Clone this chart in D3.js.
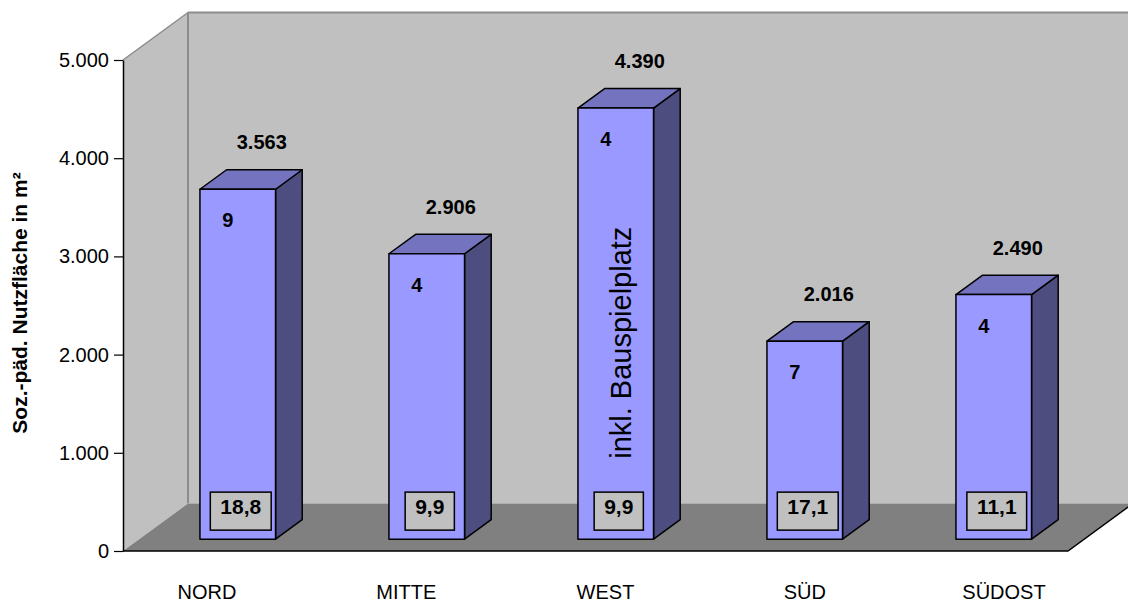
<!DOCTYPE html>
<html>
<head>
<meta charset="utf-8">
<script src="https://cdn.jsdelivr.net/npm/d3@7"></script>
<style>
  html, body { margin: 0; padding: 0; background: #fff; }
  svg { display: block; font-family: "Liberation Sans", Arial, sans-serif; }
</style>
</head>
<body>
<svg id="chart" width="1128" height="605"></svg>
<script>
// Sozialpädagogische Nutzfläche je Stadtbezirk
const categories = ["NORD", "MITTE", "WEST", "SÜD", "SÜDOST"];
const flaeche    = [3563, 2906, 4390, 2016, 2490];   // m²
const anzahl     = [9, 4, 4, 7, 4];                  // Einrichtungen
const quote      = [18.8, 9.9, 9.9, 17.1, 11.1];
const yTicks     = [0, 1000, 2000, 3000, 4000, 5000];
const notes      = [{ category: "WEST", text: "inkl. Bauspielplatz", value: 2000 }];
const yTitle     = "Soz.-päd. Nutzfläche in m²";

const de = d3.formatLocale({ decimal: ",", thousands: ".", grouping: [3], currency: ["", " €"] });
const fmtInt = de.format(",.0f");
const fmtDec = de.format(",.1f");

const svg = d3.select("#chart");

// 3D box geometry: front plane z=0, back wall z=1
const DX = 65, DY = 47.5;
const plotLeft = 123, plotRight = 1068;
const y = d3.scaleLinear().domain([0, 5000]).range([551, 60]);
const xBand = d3.scaleBand().domain(categories).range([127, 1072])
  .paddingInner(0.6).paddingOuter(0.3);
const xLabel = d3.scalePoint().domain(categories).range([207, 1004]);
const P = (x, v, z) => [x + z * DX, y(v) - z * DY];
const poly = pts => "M" + pts.map(p => p.join(",")).join("L") + "Z";

const vMax = y.domain()[1];

// back wall
svg.append("path")
  .attr("d", poly([P(plotLeft, vMax, 1), P(plotRight, vMax, 1), P(plotRight, 0, 1), P(plotLeft, 0, 1)]))
  .attr("fill", "#c0c0c0");
// left wall
svg.append("path")
  .attr("d", poly([P(plotLeft, vMax, 0), P(plotLeft, vMax, 1), P(plotLeft, 0, 1), P(plotLeft, 0, 0)]))
  .attr("fill", "#c0c0c0");
// floor
svg.append("path")
  .attr("d", poly([P(plotLeft, 0, 0), P(plotRight, 0, 0), P(plotRight, 0, 1), P(plotLeft, 0, 1)]))
  .attr("fill", "#808080");

// wall edges
const grayEdge = (a, b, w) => svg.append("line")
  .attr("x1", a[0]).attr("y1", a[1]).attr("x2", b[0]).attr("y2", b[1])
  .attr("stroke", "#8c8c8c").attr("stroke-width", w);
grayEdge(P(plotLeft, vMax, 0), P(plotLeft, vMax, 1), 1.5);
grayEdge(P(plotLeft, vMax, 1), P(plotLeft, 0, 1), 2);
grayEdge(P(plotLeft, vMax, 1), P(plotRight, vMax, 1), 2);

// floor front and right edges
svg.append("path")
  .attr("d", "M" + [P(plotLeft, 0, 0), P(plotRight, 0, 0), P(plotRight, 0, 1)].map(p => p.join(",")).join("L"))
  .attr("fill", "none").attr("stroke", "#000").attr("stroke-width", 1.5);

// value axis
const yAxis = d3.axisLeft(y).tickValues(yTicks).tickSize(9).tickSizeOuter(0).tickPadding(5)
  .tickFormat(d => fmtInt(d));
const gAxis = svg.append("g").attr("transform", `translate(${plotLeft},0)`).call(yAxis);
gAxis.select(".domain").attr("stroke", "#000").attr("stroke-width", 1.5);
gAxis.selectAll(".tick line").attr("stroke", "#000").attr("stroke-width", 1.2);
gAxis.selectAll(".tick text")
  .attr("font-size", "20px").attr("fill", "#000")
  .attr("font-family", "'Liberation Sans', Arial, sans-serif");

// axis title
svg.append("text")
  .attr("transform", "translate(27,303) rotate(-90)")
  .attr("text-anchor", "middle")
  .attr("font-size", "21px").attr("font-weight", "bold")
  .text(yTitle);

// bars
const z0 = 0.25, z1 = 0.66;
const rows = categories.map((c, i) => ({ c, v: flaeche[i], n: anzahl[i], q: quote[i] }));
const gBars = svg.append("g");
rows.forEach(d => {
  const x0 = xBand(d.c), x1 = x0 + xBand.bandwidth();
  const g = gBars.append("g")
    .attr("stroke", "#000").attr("stroke-width", 1.5).attr("stroke-linejoin", "round");
  g.append("path").attr("fill", "#4d4d80")
    .attr("d", poly([P(x1, 0, z0), P(x1, 0, z1), P(x1, d.v, z1), P(x1, d.v, z0)]));
  g.append("path").attr("fill", "#7373bf")
    .attr("d", poly([P(x0, d.v, z0), P(x1, d.v, z0), P(x1, d.v, z1), P(x0, d.v, z1)]));
  g.append("path").attr("fill", "#9999ff")
    .attr("d", poly([P(x0, 0, z0), P(x1, 0, z0), P(x1, d.v, z0), P(x0, d.v, z0)]));
});

// labels on top of bars
rows.forEach(d => {
  const [fx, fy] = P(xBand(d.c) + xBand.bandwidth() / 2, d.v, z0);
  svg.append("text")
    .attr("x", fx + 24).attr("y", fy - 47)
    .attr("text-anchor", "middle").attr("dominant-baseline", "central")
    .attr("font-size", "20px").attr("font-weight", "bold")
    .text(fmtInt(d.v));
  // number of facilities
  svg.append("text")
    .attr("x", fx - 10).attr("y", fy + 31)
    .attr("text-anchor", "middle").attr("dominant-baseline", "central")
    .attr("font-size", "20px").attr("font-weight", "bold")
    .text(d.n);
});

// boxed ratio labels at the bar foot
rows.forEach(d => {
  const [fx, fy] = P(xBand(d.c) + xBand.bandwidth() / 2, 0, z0);
  const g = svg.append("g").attr("transform", `translate(${fx + 3},${fy - 9})`);
  const rect = g.append("rect").attr("fill", "#c0c0c0").attr("stroke", "#000").attr("stroke-width", 1.5);
  const t = g.append("text")
    .attr("x", 0).attr("y", -16)
    .attr("text-anchor", "middle")
    .attr("font-size", "21px").attr("font-weight", "bold")
    .text(fmtDec(d.q));
  const w = t.node().getComputedTextLength() + 20;
  rect.attr("x", -w / 2).attr("y", -38).attr("width", w).attr("height", 38);
});

// notes written inside bars
notes.forEach(n => {
  const [fx, fy] = P(xBand(n.category) + xBand.bandwidth() / 2, n.value, z0);
  svg.append("text")
    .attr("transform", `translate(${fx + 15},${fy}) rotate(-90)`)
    .attr("text-anchor", "middle")
    .attr("font-size", "29px")
    .text(n.text);
});

// category labels
svg.append("g").selectAll("text").data(categories).join("text")
  .attr("x", d => xLabel(d)).attr("y", 599)
  .attr("text-anchor", "middle")
  .attr("font-size", "20px")
  .text(d => d);
</script>
</body>
</html>
